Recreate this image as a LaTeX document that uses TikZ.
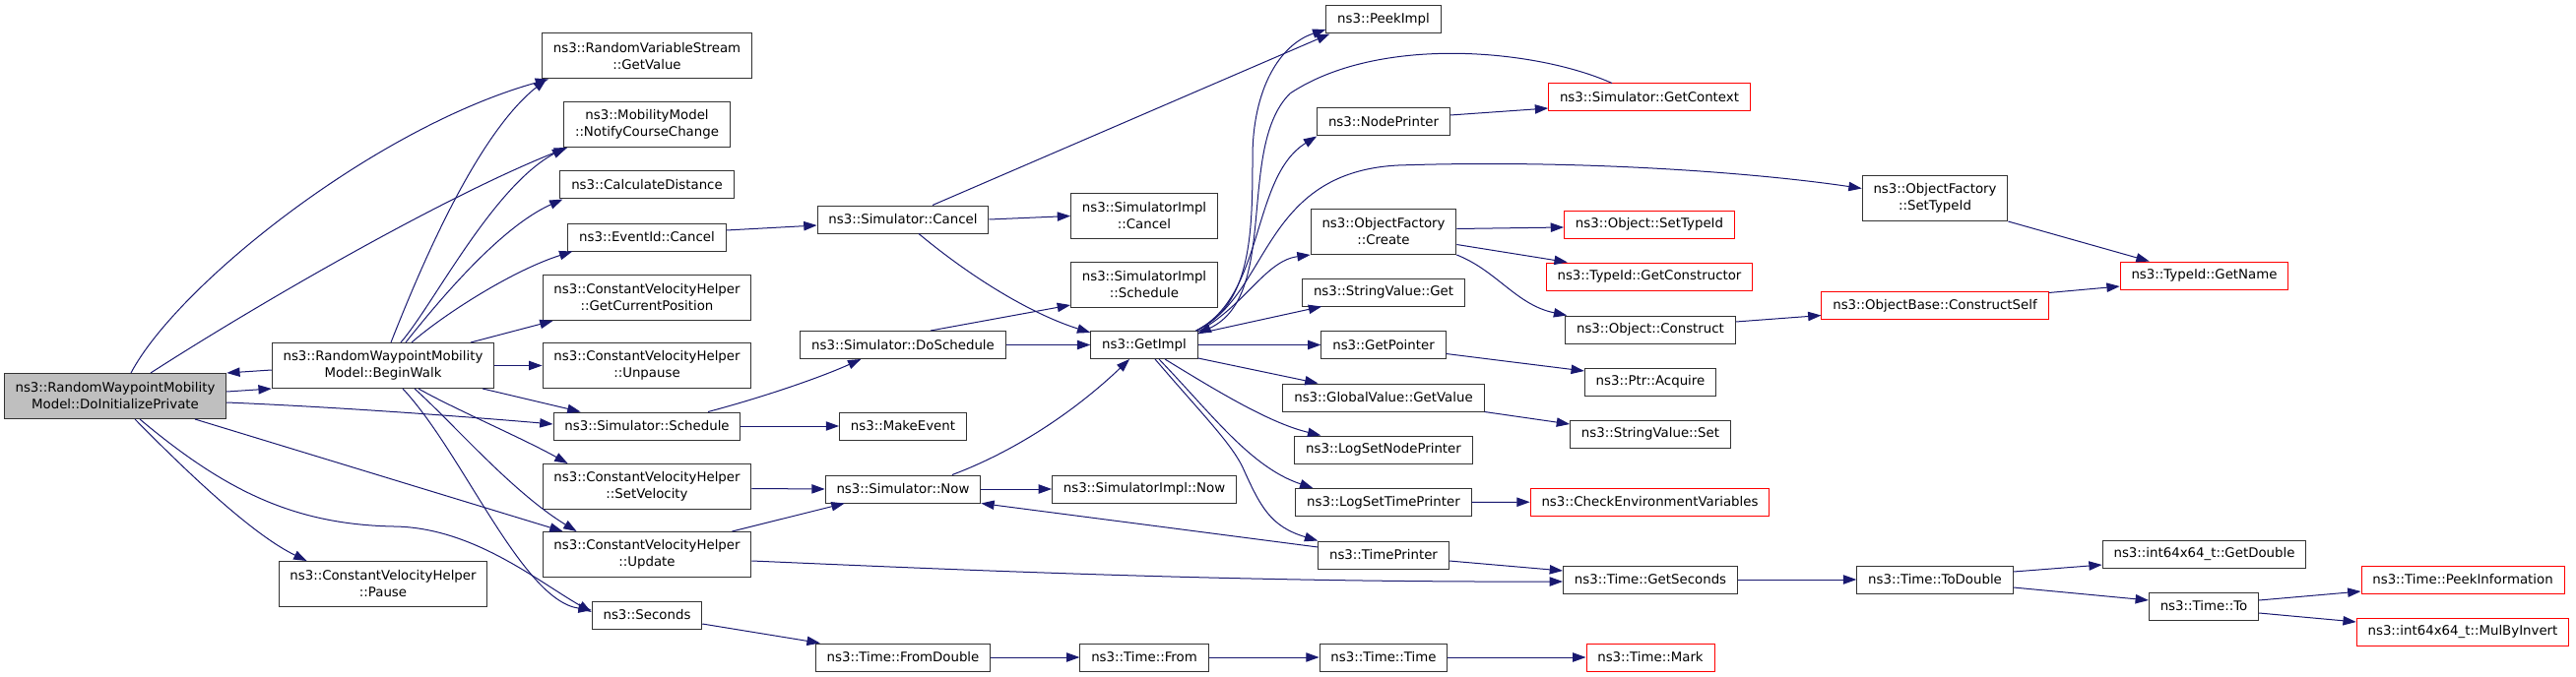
\documentclass[tikz,border=0pt]{standalone}
\usepackage{fontspec}
\setmainfont{DejaVu Sans}
\usetikzlibrary{arrows.meta}
\definecolor{edgeblue}{HTML}{191970}
\begin{document}
\begin{tikzpicture}[x=0.75pt,y=-0.75pt,
  fn/.style={draw=black!80,line width=0.75pt,fill=white,inner xsep=8.5pt,inner ysep=2pt,
    minimum height=21pt,align=center,font=\fontsize{10}{12.75}\selectfont},
  two/.style={minimum height=34.5pt},
  cur/.style={fill=black!25},
  trunc/.style={draw=red},
  call/.style={draw=edgeblue,line width=0.75pt,-{Triangle[length=10pt,width=7pt]}}]
\useasboundingbox (0,0) rectangle (2616,688);
\node[fn,two,cur] (dip) at (117,402.5) {ns3::RandomWaypointMobility\\Model::DoInitializePrivate};
\node[fn,two] (bw) at (389,371.5) {ns3::RandomWaypointMobility\\Model::BeginWalk};
\node[fn,two] (pause) at (389,593.5) {ns3::ConstantVelocityHelper\\::Pause};
\node[fn,two] (gv) at (657,57) {ns3::RandomVariableStream\\::GetValue};
\node[fn,two] (ncc) at (657,126.5) {ns3::MobilityModel\\::NotifyCourseChange};
\node[fn] (cd) at (657,188) {ns3::CalculateDistance};
\node[fn] (eic) at (657,241) {ns3::EventId::Cancel};
\node[fn,two] (gcp) at (657,302.5) {ns3::ConstantVelocityHelper\\::GetCurrentPosition};
\node[fn,two] (unp) at (657,371.5) {ns3::ConstantVelocityHelper\\::Unpause};
\node[fn] (ssch) at (657,433) {ns3::Simulator::Schedule};
\node[fn,two] (sv) at (657,494.5) {ns3::ConstantVelocityHelper\\::SetVelocity};
\node[fn,two] (upd) at (657,563.5) {ns3::ConstantVelocityHelper\\::Update};
\node[fn] (sec) at (657,625) {ns3::Seconds};
\node[fn] (scan) at (917,223) {ns3::Simulator::Cancel};
\node[fn] (dosch) at (917,350.5) {ns3::Simulator::DoSchedule};
\node[fn] (mke) at (917,433) {ns3::MakeEvent};
\node[fn] (snow) at (917,497) {ns3::Simulator::Now};
\node[fn] (fdbl) at (917,668) {ns3::Time::FromDouble};
\node[fn,two] (sicancel) at (1162,219.5) {ns3::SimulatorImpl\\::Cancel};
\node[fn,two] (sisch) at (1162,289.5) {ns3::SimulatorImpl\\::Schedule};
\node[fn] (gimpl) at (1162,350.5) {ns3::GetImpl};
\node[fn] (sinow) at (1162,497) {ns3::SimulatorImpl::Now};
\node[fn] (tfrom) at (1162,668) {ns3::Time::From};
\node[fn] (peek) at (1405,20) {ns3::PeekImpl};
\node[fn] (nodep) at (1405,124) {ns3::NodePrinter};
\node[fn,two] (ofc) at (1405,235.5) {ns3::ObjectFactory\\::Create};
\node[fn] (svget) at (1405,297) {ns3::StringValue::Get};
\node[fn] (gptr) at (1405,350.5) {ns3::GetPointer};
\node[fn] (gvget) at (1405,404) {ns3::GlobalValue::GetValue};
\node[fn] (lsnp) at (1405,457) {ns3::LogSetNodePrinter};
\node[fn] (lstp) at (1405,510.5) {ns3::LogSetTimePrinter};
\node[fn] (tprn) at (1405,564) {ns3::TimePrinter};
\node[fn] (ttime) at (1405,668) {ns3::Time::Time};
\node[fn,trunc] (gctx) at (1675,99) {ns3::Simulator::GetContext};
\node[fn,trunc] (ostid) at (1675,228) {ns3::Object::SetTypeId};
\node[fn,trunc] (gcons) at (1675,281) {ns3::TypeId::GetConstructor};
\node[fn] (ocons) at (1676,335) {ns3::Object::Construct};
\node[fn] (acq) at (1676,388) {ns3::Ptr::Acquire};
\node[fn] (svset) at (1676,441) {ns3::StringValue::Set};
\node[fn,trunc] (cenv) at (1675.5,510) {ns3::CheckEnvironmentVariables};
\node[fn] (gsec) at (1676,589) {ns3::Time::GetSeconds};
\node[fn,trunc] (mark) at (1676,668) {ns3::Time::Mark};
\node[fn,two] (ofstid) at (1965,201.5) {ns3::ObjectFactory\\::SetTypeId};
\node[fn,trunc] (cself) at (1965,310.5) {ns3::ObjectBase::ConstructSelf};
\node[fn] (todbl) at (1965,589) {ns3::Time::ToDouble};
\node[fn,trunc] (gname) at (2238.5,280) {ns3::TypeId::GetName};
\node[fn] (gdbl) at (2238.5,563) {ns3::int64x64\_t::GetDouble};
\node[fn] (tto) at (2238,616) {ns3::Time::To};
\node[fn,trunc] (peekinf) at (2501,589) {ns3::Time::PeekInformation};
\node[fn,trunc] (mulinv) at (2501,642) {ns3::int64x64\_t::MulByInvert};
\draw[call] ([shift={(16,0)}]dip.north) .. controls (180,290) and (380,130) .. ([shift={(7,0)}]gv.south west);
\draw[call] ([shift={(36,0)}]dip.north) .. controls (260,310) and (450,200) .. ([shift={(4,0)}]ncc.south west);
\draw[call] ([shift={(0,-4.5)}]dip.east) -- (bw.south west);
\draw[call] ([shift={(0,6.5)}]dip.east) .. controls (350,414) and (480,424) .. ([shift={(0,-2)}]ssch.west);
\draw[call] ([shift={(81,0)}]dip.south) -- ([shift={(21,0)}]upd.north west);
\draw[call] ([shift={(25,0)}]dip.south) .. controls (230,500) and (300,533) .. (400,535) .. controls (480,536) and (545,590) .. ([shift={(0,-3)}]sec.west);
\draw[call] ([shift={(20,0)}]dip.south) .. controls (200,490) and (260,545) .. ([shift={(29,0)}]pause.north west);
\draw[call] ([shift={(0,4.5)}]bw.west) -- (dip.north east);
\draw[call] ([shift={(8,0)}]bw.north) .. controls (420,290) and (480,140) .. ([shift={(5,0)}]gv.south west);
\draw[call] ([shift={(18,0)}]bw.north) .. controls (440,310) and (500,190) .. ([shift={(2,0)}]ncc.south west);
\draw[call] ([shift={(23,0)}]bw.north) .. controls (450,300) and (510,230) .. ([shift={(3,0)}]cd.south west);
\draw[call] ([shift={(29,0)}]bw.north) .. controls (450,320) and (520,275) .. ([shift={(5,0)}]eic.south west);
\draw[call] ([shift={(89,0)}]bw.north) -- ([shift={(11,0)}]gcp.south west);
\draw[call] (bw.east) -- (unp.west);
\draw[call] ([shift={(-12,0)}]bw.south east) -- ([shift={(28,0)}]ssch.north west);
\draw[call] ([shift={(36,0)}]bw.south) .. controls (460,415) and (530,445) .. ([shift={(26,0)}]sv.north west);
\draw[call] ([shift={(32,0)}]bw.south) .. controls (460,430) and (520,500) .. ([shift={(35,0)}]upd.north west);
\draw[call] ([shift={(20,0)}]bw.south) .. controls (470,460) and (530,610) .. ([shift={(0,-5)}]sec.west);
\draw[call] ([shift={(0,-7)}]eic.east) -- ([shift={(0,6)}]scan.west);
\draw[call] ([shift={(30,0)}]scan.north) -- ([shift={(4,0)}]peek.south west);
\draw[call] (scan.east) -- (sicancel.west);
\draw[call] ([shift={(16,0)}]scan.south) .. controls (990,285) and (1050,320) .. ([shift={(0,2)}]gimpl.north west);
\draw[call] ([shift={(62,0)}]ssch.north) .. controls (770,405) and (830,385) .. ([shift={(62,0)}]dosch.south west);
\draw[call] (ssch.east) -- (mke.west);
\draw[call] ([shift={(28,0)}]dosch.north) -- ([shift={(0,-3)}]sisch.south west);
\draw[call] (dosch.east) -- (gimpl.west);
\draw[call] ([shift={(0,2)}]sv.east) -- (snow.west);
\draw[call] ([shift={(-20,0)}]upd.north east) -- ([shift={(20,0)}]snow.south west);
\draw[call] ([shift={(0,6.5)}]upd.east) .. controls (950,578) and (1250,592) .. ([shift={(0,2)}]gsec.west);
\draw[call] ([shift={(0,9)}]sec.east) -- ([shift={(5,0)}]fdbl.north west);
\draw[call] (fdbl) -- (tfrom);
\draw[call] (tfrom) -- (ttime);
\draw[call] (ttime) -- (mark);
\draw[call] ([shift={(50,0)}]snow.north) .. controls (1040,455) and (1100,410) .. ([shift={(-15,0)}]gimpl.south);
\draw[call] (snow) -- (sinow);
\draw[call] ([shift={(0,-8)}]tprn.west) -- (snow.south east);
\draw[call] ([shift={(0,6)}]tprn.east) -- ([shift={(0,-9)}]gsec.west);
\draw[call] ([shift={(-2,0)}]gimpl.north east) .. controls (1270,310) and (1272,240) .. (1272,160) .. controls (1272,90) and (1300,45) .. ([shift={(0,10)}]peek.west);
\draw[call] ([shift={(-38,0)}]gctx.north) .. controls (1560,50) and (1400,35) .. (1310,95) .. controls (1255,150) and (1300,300) .. ([shift={(0,3)}]gimpl.north east);
\draw[call] ([shift={(-2,0)}]gimpl.north east) .. controls (1285,300) and (1270,180) .. (nodep.south west);
\draw[call] ([shift={(-2,0)}]gimpl.north east) .. controls (1290,300) and (1280,175) .. (1420,168) .. controls (1600,162) and (1780,175) .. ([shift={(0,-10)}]ofstid.west);
\draw[call] ([shift={(0,1)}]gimpl.north east) .. controls (1265,310) and (1285,265) .. (ofc.south west);
\draw[call] ([shift={(0,3)}]gimpl.north east) -- ([shift={(20,0)}]svget.south west);
\draw[call] (gimpl.east) -- (gptr.west);
\draw[call] ([shift={(0,-1)}]gimpl.south east) -- ([shift={(36,0)}]gvget.north west);
\draw[call] ([shift={(21,0)}]gimpl.south) .. controls (1240,400) and (1290,430) .. ([shift={(27,0)}]lsnp.north west);
\draw[call] ([shift={(15,0)}]gimpl.south) .. controls (1230,420) and (1270,475) .. ([shift={(18,0)}]lstp.north west);
\draw[call] ([shift={(11,0)}]gimpl.south) .. controls (1220,420) and (1250,450) .. (1262,475) .. controls (1280,515) and (1290,535) .. (tprn.north west);
\draw[call] ([shift={(0,-7)}]nodep.east) -- ([shift={(0,11)}]gctx.west);
\draw[call] ([shift={(0,-3)}]ofc.east) -- ([shift={(0,3)}]ostid.west);
\draw[call] ([shift={(0,13)}]ofc.east) -- ([shift={(22,0)}]gcons.north west);
\draw[call] (ofc.south east) .. controls (1520,275) and (1540,310) .. ([shift={(2,0)}]ocons.north west);
\draw[call] (ofstid.south east) -- ([shift={(30,0)}]gname.north west);
\draw[call] ([shift={(0,-8)}]ocons.east) -- ([shift={(0,10)}]cself.west);
\draw[call] ([shift={(0,-13)}]cself.east) -- ([shift={(0,11)}]gname.west);
\draw[call] ([shift={(0,9)}]gptr.east) -- ([shift={(0,-11)}]acq.west);
\draw[call] (gvget.south east) -- ([shift={(0,-10)}]svset.west);
\draw[call] (lstp) -- (cenv);
\draw[call] (gsec) -- (todbl);
\draw[call] ([shift={(0,-8)}]todbl.east) -- ([shift={(0,11)}]gdbl.west);
\draw[call] ([shift={(0,8)}]todbl.east) -- ([shift={(0,-6)}]tto.west);
\draw[call] ([shift={(0,-6)}]tto.east) -- ([shift={(0,12)}]peekinf.west);
\draw[call] ([shift={(0,7)}]tto.east) -- ([shift={(0,-10)}]mulinv.west);
\end{tikzpicture}
\end{document}
